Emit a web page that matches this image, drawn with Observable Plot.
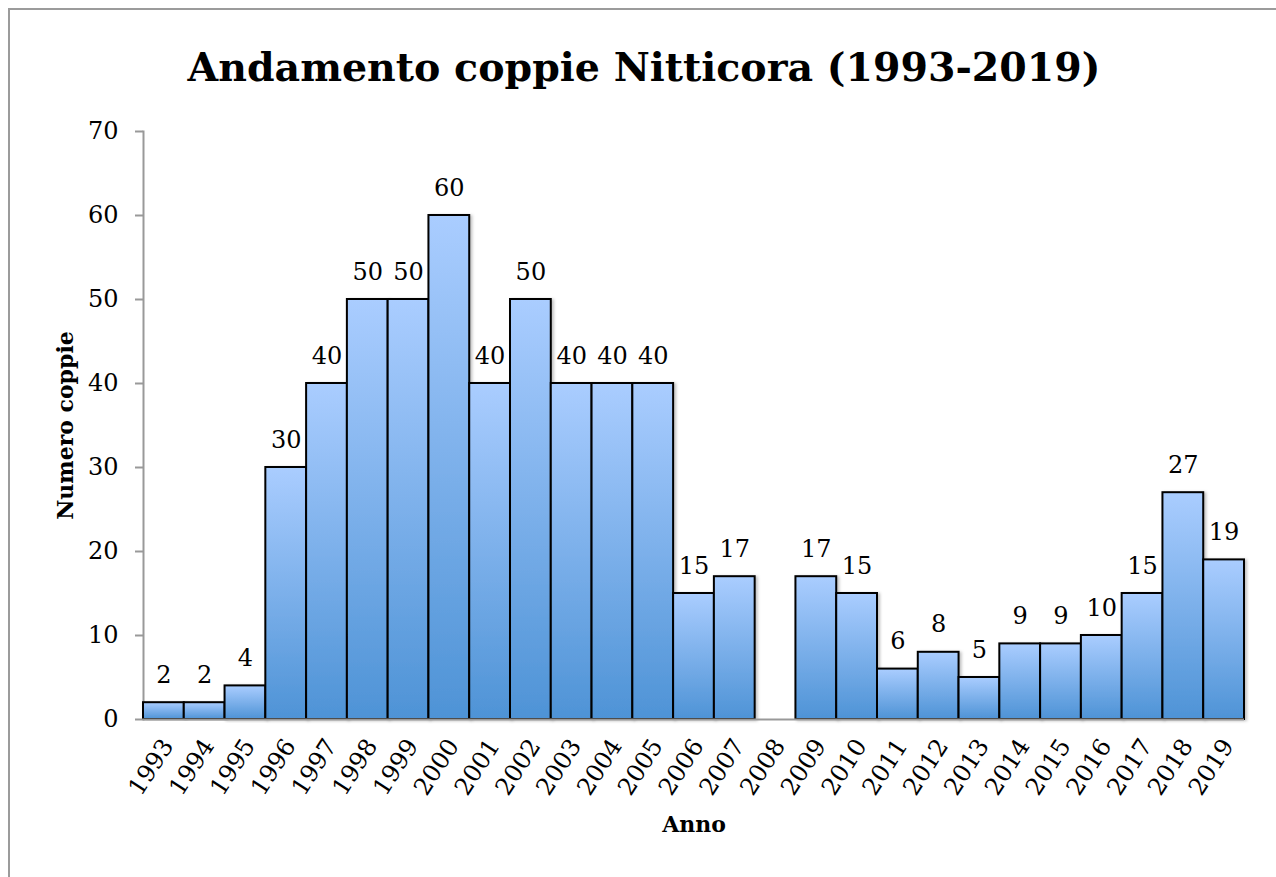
<!DOCTYPE html>
<html><head><meta charset="utf-8">
<script src="https://cdn.jsdelivr.net/npm/d3@7"></script>
<script src="https://cdn.jsdelivr.net/npm/@observablehq/plot@0.6"></script>
<style>
body{margin:0;background:#fff;}
#wrap{position:relative;width:1276px;height:877px;overflow:hidden;font-family:"DejaVu Serif",serif;background:#fff;}
#frame{position:absolute;left:8px;top:8px;width:1400px;height:1000px;border:2px solid #9b9b9b;box-sizing:border-box;}
#title{position:absolute;left:6px;top:0;width:1276px;text-align:center;font-weight:bold;font-size:39.5px;line-height:40px;padding-top:47px;color:#000;}
#chart{position:absolute;left:0;top:110px;}
</style>
</head><body>
<div id="wrap">
<div id="frame"></div>
<div id="title">Andamento coppie Nitticora (1993-2019)</div>
<div id="chart"></div>
</div>
<script>
const years = ["1993","1994","1995","1996","1997","1998","1999","2000","2001","2002","2003","2004","2005","2006","2007","2008","2009","2010","2011","2012","2013","2014","2015","2016","2017","2018","2019"];
const coppie = [2,2,4,30,40,50,50,60,40,50,40,40,40,15,17,null,17,15,6,8,5,9,9,10,15,27,19];
const yTicks = [0,10,20,30,40,50,60,70];
const yLabel = "Numero coppie";
const xLabel = "Anno";

const data = years.map((y,i)=>({anno:y, n:coppie[i]}));
const present = data.filter(d=>d.n!=null);

const defs = () => {
  const d = d3.create("svg:defs");
  const g = d.append("linearGradient").attr("id","barGrad").attr("x1",0).attr("y1",0).attr("x2",0).attr("y2",1);
  g.append("stop").attr("offset","0%").attr("stop-color","#aacdff");
  g.append("stop").attr("offset","100%").attr("stop-color","#4e93d6");
  const f = d.append("filter").attr("id","shadow").attr("x","-10%").attr("y","-10%").attr("width","130%").attr("height","120%");
  f.append("feDropShadow").attr("dx",2).attr("dy",1).attr("stdDeviation",1.5).attr("flood-color","#000").attr("flood-opacity",0.25);
  return d.node();
};

const chart = Plot.plot({
  width: 1276,
  height: 767,
  marginLeft: 143,
  marginRight: 32,
  marginTop: 21,
  marginBottom: 158,
  style: {fontFamily: "'DejaVu Serif', serif", fontSize: "24px", background: "transparent", color: "#000"},
  x: {domain: years, padding: 0, round: false, label: null},
  y: {domain: [0,70], label: null},
  marks: [
    defs,
    Plot.frame({anchor: "left", stroke: "#999", strokeWidth: 2}),
    Plot.barY(present, {x: "anno", y: "n", fill: "url(#barGrad)", stroke: "#000", strokeWidth: 2, inset: 0}),
    Plot.ruleY([0], {stroke: "#999", strokeWidth: 2}),
    Plot.axisY({ticks: yTicks, tickSize: 8, tickPadding: 17, stroke: "#999", strokeWidth: 2, fill: "#000", fontSize: 24, label: null}),
    Plot.axisX({tickSize: 0, tickRotate: -57, tickPadding: 22, dx: 4, fill: "#000", fontSize: 24, label: null}),
    Plot.text(present, {x: "anno", y: "n", text: d => String(d.n), dy: -20, lineAnchor: "bottom", fontSize: 24, fill: "#000"}),
    Plot.text([yLabel], {frameAnchor: "left", dx: -78, rotate: -90, textAnchor: "middle", fontWeight: "bold", fontSize: 22, fill: "#000"}),
    Plot.text([xLabel], {frameAnchor: "bottom", dy: 112, fontWeight: "bold", fontSize: 22, fill: "#000"})
  ]
});
d3.select(chart).selectAll("g[aria-label='bar'] rect").attr("filter","url(#shadow)");
document.getElementById("chart").appendChild(chart);
</script>
</body></html>
